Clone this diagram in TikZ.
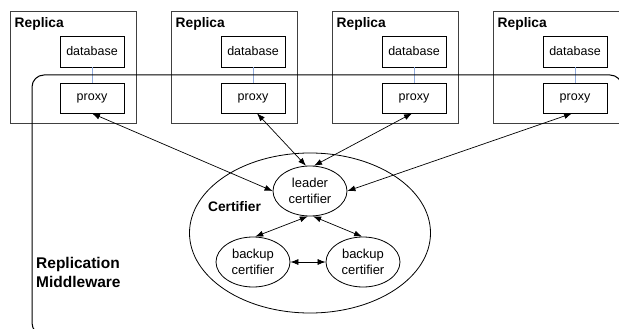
\documentclass[tikz,border=0pt]{standalone}
\usepackage{fontspec}
\setmainfont{Liberation Sans}
\usetikzlibrary{arrows.meta,shapes.geometric}
\definecolor{repl}{HTML}{404040}
\definecolor{link}{HTML}{8FAADC}
\tikzset{
  replica/.style={draw=repl, line width=1pt, minimum width=126pt, minimum height=111pt, inner sep=0pt},
  inbox/.style={draw=black, line width=0.8pt, minimum width=64pt, minimum height=31pt, inner sep=0pt, font=\fontsize{12.5}{14}\selectfont},
  cert/.style={draw=black, line width=0.8pt, ellipse, minimum width=74pt, minimum height=50pt, inner sep=0pt, align=center, font=\fontsize{13}{16}\selectfont},
  rlabel/.style={anchor=base west, inner sep=0pt, font=\bfseries\fontsize{13.8}{16}\selectfont},
  arr/.style={{Latex[length=8pt,width=6pt]}-{Latex[length=8pt,width=6pt]}, line width=0.7pt},
  dblink/.style={draw=link, line width=1pt}
}
\begin{document}
\begin{tikzpicture}[x=1pt,y=-1pt]
\useasboundingbox (0,0) rectangle (619,329);
\clip (0,0) rectangle (619,329);
\foreach \i/\x in {1/10,2/171,3/332,4/493}{
  \node[replica] (r\i) at (\x+63,67.5) {};
  \node[rlabel] (rl\i) at (\x+4.5,28) {Replica};
  \node[inbox] (d\i) at (\x+82,51.5) {database};
  \node[inbox, minimum height=30pt] (p\i) at (\x+82,98) {proxy};
  \draw[dblink] (d\i.south) -- (p\i.north);
}
% middleware frame
\draw[line width=1pt, rounded corners=12pt] (32,75) rectangle (622,335);
\node[anchor=base west, inner sep=0pt, align=left, font=\bfseries\fontsize{15.5}{19}\selectfont] (mw) at (36,287) {Replication\\Middleware};
% certifier
\node[draw=black, line width=0.8pt, ellipse, minimum width=241pt, minimum height=160pt, inner sep=0pt] (ce) at (310,233) {};
\node[anchor=base, inner sep=0pt, font=\bfseries\fontsize{13.8}{16}\selectfont] (cl) at (234.5,211) {Certifier};
\node[cert] (lead) at (310,191) {leader\\certifier};
\node[cert] (bl) at (253,262) {backup\\certifier};
\node[cert] (br) at (363,262) {backup\\certifier};
\draw[arr] (p1.south) -- (lead.west);
\draw[arr] ([xshift=4pt]p2.south) -- (lead.99);
\draw[arr] ([xshift=-2pt]p3.south) -- (lead.81);
\draw[arr] ([xshift=-3pt]p4.south) -- (lead.east);
\draw[arr] (lead.-95) -- (bl.85);
\draw[arr] (lead.-83) -- (br.92);
\draw[arr] (bl.east) -- (br.west);
\end{tikzpicture}
\end{document}
